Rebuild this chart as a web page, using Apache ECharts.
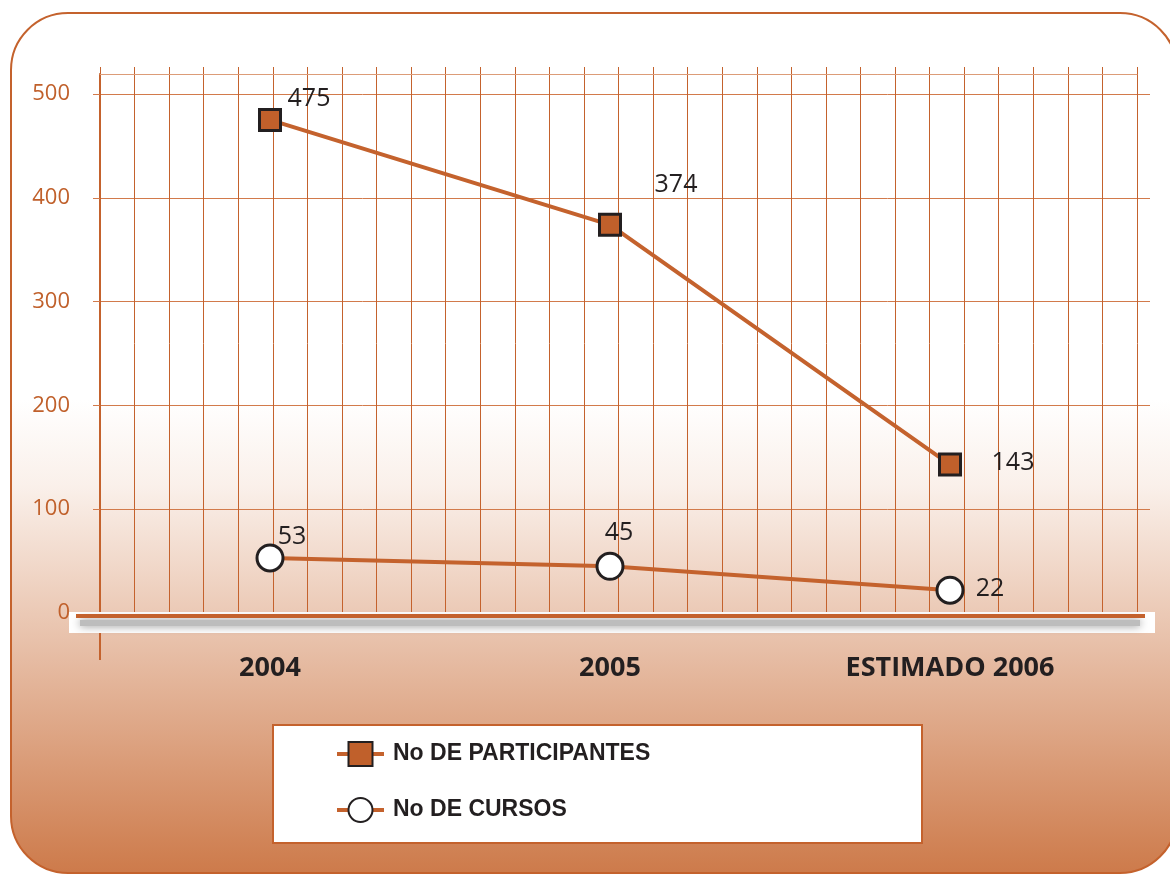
<!DOCTYPE html>
<html>
<head>
<meta charset="utf-8">
<title>Participantes y cursos</title>
<script src="https://cdn.jsdelivr.net/npm/echarts@6/dist/echarts.min.js"></script>
<style>
  html, body { margin: 0; padding: 0; background: #fff; }
  #chart { width: 1170px; height: 875px; }
</style>
</head>
<body>
<div id="chart"></div>
<script>
  // datos
  var years = ['2004', '2005', 'ESTIMADO 2006']
  var participantes = [475, 374, 143]
  var cursos = [53, 45, 22]
  var yTicks = [0, 100, 200, 300, 400, 500]

  var orange = '#c4622d'
  var dark = '#231f20'

  // desplazamiento de las etiquetas respecto al marcador
  var offP = [[39, -21], [66, -40], [63, -2]]
  var offC = [[22, -21], [9, -33], [40, -1]]

  function withLabels (vals, offs) {
    return vals.map(function (v, i) {
      return { value: v, label: { offset: offs[i] } }
    })
  }

  var chart = echarts.init(document.getElementById('chart'))

  var option = {
    animation: false,
    grid: [
      // lineas horizontales + etiquetas del eje Y
      { left: 100, right: 20, top: 94, bottom: 262 },
      // lineas verticales
      { left: 100, right: 33, top: 74, bottom: 262 },
      // datos
      { left: 100, right: 50, top: 94, bottom: 262 }
    ],
    xAxis: [
      { gridIndex: 0, type: 'value', min: 0, max: 1, show: false },
      {
        gridIndex: 1, type: 'value', min: 0, max: 30, interval: 1,
        axisLine: { show: false }, axisTick: { show: false }, axisLabel: { show: false },
        splitLine: { show: true, lineStyle: { color: orange, width: 1 } }
      },
      {
        gridIndex: 1, type: 'value', position: 'top', min: 0, max: 30, interval: 1,
        axisLine: { show: true, lineStyle: { color: '#dc9c78', width: 1 } },
        axisTick: { show: true, length: 7, lineStyle: { color: orange, width: 1 } },
        axisLabel: { show: false },
        splitLine: { show: false }
      },
      {
        gridIndex: 2, type: 'category', data: years, boundaryGap: true,
        axisLine: { show: false }, axisTick: { show: false },
        axisLabel: {
          margin: 42,
          color: dark,
          fontFamily: 'Open Sans',
          fontWeight: 'bold',
          fontSize: 27
        }
      }
    ],
    yAxis: [
      {
        gridIndex: 0, type: 'value', min: yTicks[0], max: yTicks[yTicks.length - 1], interval: 100,
        axisLine: { show: false },
        axisTick: { show: true, length: 7, lineStyle: { color: '#d27a4b' } },
        axisLabel: { margin: 30, color: '#c0602b', fontFamily: 'Open Sans', fontSize: 22 },
        splitLine: { show: true, lineStyle: { color: '#d27a4b', width: 1 } }
      },
      {
        gridIndex: 1, type: 'value', min: 0, max: 520,
        axisLine: { show: true, lineStyle: { color: orange, width: 2 } },
        axisTick: { show: false }, axisLabel: { show: false }, splitLine: { show: false }
      },
      { gridIndex: 2, type: 'value', min: 0, max: 500, show: false }
    ],
    legend: {
      orient: 'vertical',
      left: 330,
      top: 736,
      itemWidth: 47,
      itemHeight: 30,
      itemGap: 30,
      lineStyle: { width: 4, color: orange },
      textStyle: {
        color: dark,
        fontFamily: 'Liberation Sans Narrow, Liberation Sans, sans-serif',
        fontWeight: 'bold',
        fontSize: 23,
        padding: [0, 0, 0, 4]
      },
      data: ['No DE PARTICIPANTES', 'No DE CURSOS']
    },
    graphic: [
      {
        type: 'rect', z: -10, silent: true,
        shape: { x: 11, y: 13, width: 1166, height: 860, r: 57 },
        style: {
          fill: new echarts.graphic.LinearGradient(0, 0, 0, 1, [
            { offset: 0, color: '#ffffff' },
            { offset: 0.45, color: '#ffffff' },
            { offset: 0.55, color: '#faf0ea' },
            { offset: 1, color: '#cd7a4a' }
          ]),
          stroke: orange,
          lineWidth: 2
        }
      },
      {
        type: 'rect', z: 10, silent: true,
        shape: { x: 69, y: 612, width: 1086, height: 21 },
        style: { fill: '#ffffff' }
      },
      {
        type: 'rect', z: 11, silent: true,
        shape: { x: 80, y: 620, width: 1060, height: 6 },
        style: { fill: '#bdbdbd', shadowBlur: 8, shadowColor: 'rgba(0,0,0,0.45)' }
      },
      {
        type: 'rect', z: 12, silent: true,
        shape: { x: 76, y: 614, width: 1069, height: 4 },
        style: { fill: orange }
      },
      {
        type: 'line', z: 12, silent: true,
        shape: { x1: 100, y1: 633, x2: 100, y2: 660 },
        style: { stroke: orange, lineWidth: 2 }
      },
      {
        type: 'rect', z: 3, silent: true,
        shape: { x: 273, y: 725, width: 649, height: 118 },
        style: { fill: '#ffffff', stroke: orange, lineWidth: 2 }
      }
    ],
    series: [
      {
        name: 'No DE PARTICIPANTES',
        type: 'line',
        xAxisIndex: 3,
        yAxisIndex: 2,
        z: 20,
        data: withLabels(participantes, offP),
        symbol: 'rect',
        symbolSize: 21,
        itemStyle: { color: '#c0602b', borderColor: dark, borderWidth: 3 },
        lineStyle: { color: orange, width: 4 },
        label: {
          show: true, position: 'inside',
          color: dark, fontFamily: 'Open Sans', fontSize: 25
        }
      },
      {
        name: 'No DE CURSOS',
        type: 'line',
        xAxisIndex: 3,
        yAxisIndex: 2,
        z: 20,
        data: withLabels(cursos, offC),
        symbol: 'circle',
        symbolSize: 26,
        itemStyle: { color: '#ffffff', borderColor: dark, borderWidth: 3 },
        lineStyle: { color: orange, width: 4 },
        label: {
          show: true, position: 'inside',
          color: dark, fontFamily: 'Open Sans', fontSize: 25
        }
      }
    ]
  }

  chart.setOption(option)
  window.addEventListener('resize', () => {
    chart.resize()
  })
</script>
</body>
</html>
